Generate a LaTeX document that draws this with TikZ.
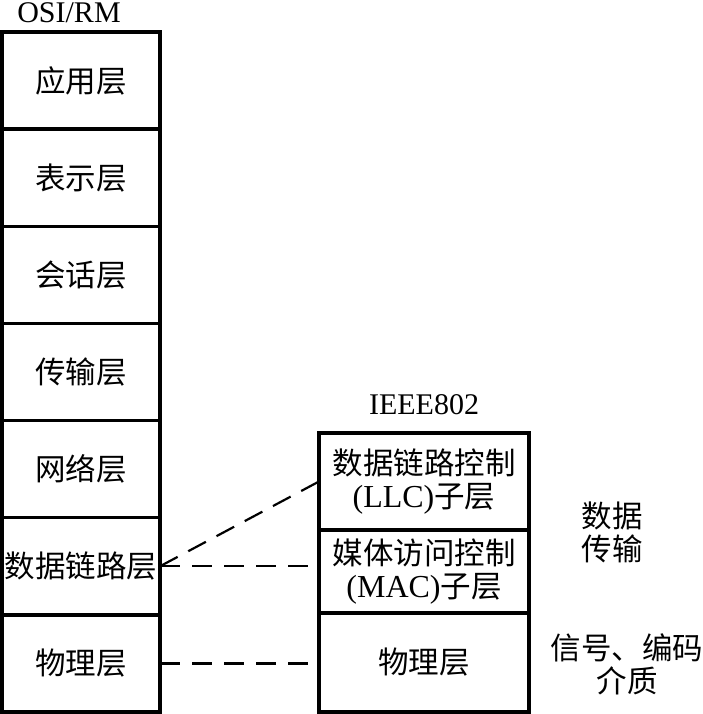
\documentclass[tikz,border=0pt]{standalone}
\usepackage{fontspec}
\setmainfont{Liberation Serif}
\newfontfamily\cjk{Noto Sans CJK SC}
\usetikzlibrary{positioning}

\begin{document}
\begin{tikzpicture}[
  x=1pt, y=-1pt,
  every node/.style={inner sep=0pt, outer sep=0pt},
  zh/.style={font=\cjk\fontsize{30.5}{33}\selectfont},
  osi/.style={zh, draw, line width=3.5pt, minimum width=158pt, minimum height=97.14pt},
  ieee/.style={zh, draw, line width=3.5pt, minimum width=210pt, align=center},
  link/.style={line width=2.2pt, dash pattern=on 20pt off 12pt},
  head/.style={font=\fontsize{30}{33}\selectfont},
]
  \useasboundingbox (0,0) rectangle (703,714);
  % OSI reference model
  \node[head] (osihd) at (69,13) {OSI/RM};
  \node[osi] (app) at (81,80.57) {应用层};
  \node[osi, below=0pt of app] (pres) {表示层};
  \node[osi, below=0pt of pres] (sess) {会话层};
  \node[osi, below=0pt of sess] (trans) {传输层};
  \node[osi, below=0pt of trans] (net) {网络层};
  \node[osi, below=0pt of net] (dl) {数据链路层};
  \node[osi, below=0pt of dl] (phy) {物理层};
  % IEEE 802
  \node[head] (ieeehd) at (424,405) {IEEE802};
  \node[ieee, minimum height=97pt] (llc) at (424,481.5)
    {数据链路控制\\{\rmfamily\fontsize{32}{33}\selectfont(LLC)}子层};
  \node[ieee, minimum height=83pt, below=0pt of llc] (mac)
    {媒体访问控制\\{\rmfamily\fontsize{32}{33}\selectfont(MAC)}子层};
  \node[ieee, minimum height=99pt, below=0pt of mac] (rphy) {物理层};
  % notes
  \node[zh, align=center] (dt) at (612,532) {数据\\传输};
  \node[zh, align=center] (sig) at (627,664) {信号、编码\\介质};
  % mapping
  \draw[link] (dl.east) -- (llc.west);
  \draw[link] (dl.east) -- (dl.east -| mac.west);
  \draw[link] (phy.east) -- (phy.east -| rphy.west);
\end{tikzpicture}
\end{document}
